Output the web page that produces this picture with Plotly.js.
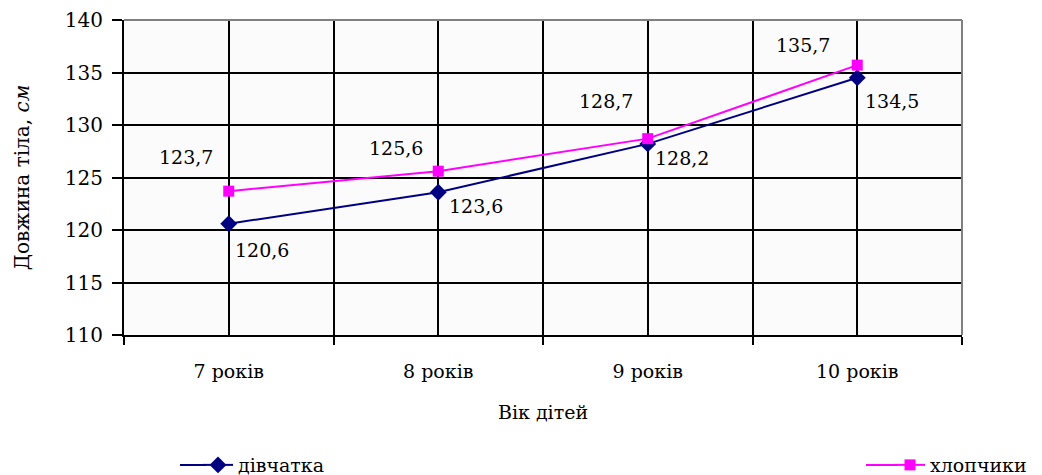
<!DOCTYPE html>
<html>
<head>
<meta charset="utf-8">
<script src="https://cdn.plot.ly/plotly-3.0.1.min.js"></script>
<style>html,body{margin:0;padding:0;background:#fff;}#chart{width:1042px;height:475px;}</style>
</head>
<body>
<div id="chart"></div>
<script>
const categories = ['7 років', '8 років', '9 років', '10 років'];
const girls = [120.6, 123.6, 128.2, 134.5];
const boys = [123.7, 125.6, 128.7, 135.7];
const seriesNames = ['дівчатка', 'хлопчики'];
const yTicks = [110, 115, 120, 125, 130, 135, 140];

const FONT = 'DejaVu Serif, Liberation Serif, serif';
const idx = categories.map((c, i) => i);
const fmt = v => v.toFixed(1).replace('.', ',');

const traces = [
  {x: idx, y: girls, name: seriesNames[0], type: 'scatter', mode: 'lines+markers', legend: 'legend',
   line: {color: '#000080', width: 2}, marker: {symbol: 'diamond', size: 13, color: '#000080'}},
  {x: idx, y: boys, name: seriesNames[1], type: 'scatter', mode: 'lines+markers', legend: 'legend2',
   line: {color: '#ff00ff', width: 2}, marker: {symbol: 'square', size: 11, color: '#ff00ff'}}
];

const girlShift = [[33, -26], [38, -14], [34, -14], [35, -23]];
const boyShift = [[-43, 34], [-42, 23], [-42, 38], [-54, 20]];
const annotations = [];
girls.forEach((v, i) => annotations.push({x: i, y: v, xref: 'x', yref: 'y', text: fmt(v), showarrow: false,
  xshift: girlShift[i][0], yshift: girlShift[i][1], font: {family: FONT, size: 19, color: '#000'}}));
boys.forEach((v, i) => annotations.push({x: i, y: v, xref: 'x', yref: 'y', text: fmt(v), showarrow: false,
  xshift: boyShift[i][0], yshift: boyShift[i][1], font: {family: FONT, size: 19, color: '#000'}}));

const bounds = categories.map((c, i) => i - 0.5).concat([categories.length - 0.5]);

const legendBase = {orientation: 'h', xref: 'container', yref: 'container', yanchor: 'middle', y: 0.021,
  xanchor: 'left', bgcolor: 'rgba(0,0,0,0)', font: {family: FONT, size: 19, color: '#000'}};

// plot area in pixels: left 124, width 838, top 20, height 315
const px = p => (p - 124) / 838;
const py = p => (335 - p) / 315;
const legY = py(465);

const layout = {
  width: 1042, height: 475,
  margin: {l: 124, r: 80, t: 20, b: 140},
  paper_bgcolor: '#ffffff',
  plot_bgcolor: '#fbfbfb',
  font: {family: FONT, size: 18, color: '#000'},
  showlegend: true,
  legend: Object.assign({}, legendBase, {x: 198 / 1042}),
  legend2: Object.assign({}, legendBase, {x: 890 / 1042}),
  xaxis: {
    range: [-0.5, categories.length - 0.5],
    tickvals: idx, ticktext: categories, ticks: '',
    showgrid: true, gridcolor: '#000', gridwidth: 2,
    showline: true, linecolor: '#000', linewidth: 2,
    zeroline: false, fixedrange: true,
    tickfont: {family: FONT, size: 19},
    ticklabelstandoff: 18,
    minor: {tickvals: bounds, ticks: 'outside', ticklen: 8, tickwidth: 2, tickcolor: '#000',
      showgrid: true, gridcolor: '#000', gridwidth: 2},
    title: {text: 'Вік дітей', font: {family: FONT, size: 19}, standoff: 25}
  },
  yaxis: {
    range: [110, 140], tickvals: yTicks, ticks: 'outside', ticklen: 10, tickwidth: 2, tickcolor: '#000',
    showgrid: true, gridcolor: '#000', gridwidth: 2,
    showline: true, linecolor: '#000', linewidth: 2, zeroline: false, fixedrange: true,
    tickfont: {family: FONT, size: 20},
    ticklabelstandoff: 5,
    title: {text: 'Довжина тіла, <i>см</i>', font: {family: FONT, size: 20}, standoff: 30}
  },
  shapes: [
    {type: 'line', xref: 'paper', yref: 'paper', x0: 0, x1: 1, y0: 1, y1: 1, line: {color: '#808080', width: 2}},
    {type: 'line', xref: 'paper', yref: 'paper', x0: 1, x1: 1, y0: 0, y1: 1, line: {color: '#808080', width: 2}},
    {type: 'line', xref: 'paper', yref: 'paper', x0: px(180), x1: px(206), y0: legY, y1: legY, line: {color: '#000080', width: 2}},
    {type: 'line', xref: 'paper', yref: 'paper', x0: px(866), x1: px(898), y0: legY, y1: legY, line: {color: '#ff00ff', width: 2}}
  ],
  annotations: annotations
};

Plotly.newPlot('chart', traces, layout, {displayModeBar: false, staticPlot: true});
</script>
</body>
</html>
